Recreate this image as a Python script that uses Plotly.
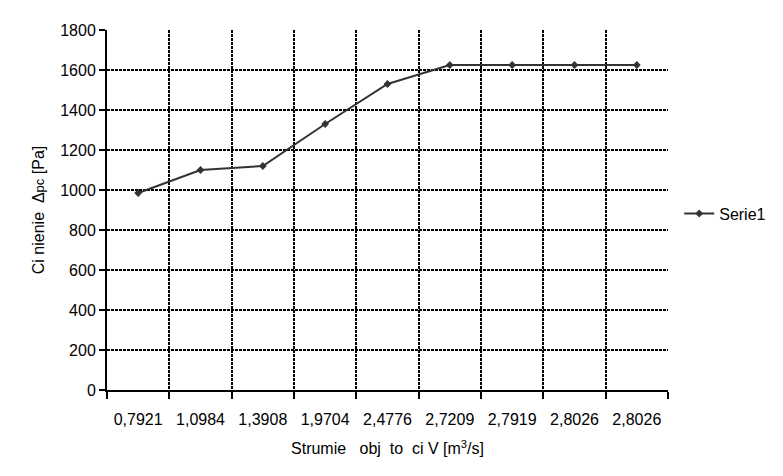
import plotly.graph_objects as go

x_labels = ["0,7921", "1,0984", "1,3908", "1,9704", "2,4776", "2,7209", "2,7919", "2,8026", "2,8026"]
y_values = [985, 1100, 1120, 1330, 1530, 1625, 1625, 1625, 1625]
series_name = "Serie1"
y_ticks = [0, 200, 400, 600, 800, 1000, 1200, 1400, 1600, 1800]

x_pos = list(range(len(x_labels)))

fig = go.Figure()
fig.add_trace(go.Scatter(
    x=x_pos, y=y_values, name=series_name, mode="lines+markers",
    line=dict(color="#333333", width=2),
    marker=dict(symbol="diamond", size=6, color="#333333"),
))

font = dict(family="Liberation Sans, Arial, sans-serif", size=16, color="black")

fig.update_layout(
    width=783, height=476,
    margin=dict(l=107, r=108, t=30, b=86),
    paper_bgcolor="white", plot_bgcolor="white",
    font=font,
    showlegend=True,
    legend=dict(x=1.02, xanchor="left", y=0.49, yanchor="middle",
                font=dict(size=16), bgcolor="rgba(0,0,0,0)", itemwidth=30),
    xaxis=dict(
        range=[-0.5, len(x_labels) - 0.5],
        tickmode="array", tickvals=x_pos, ticktext=x_labels,
        tickfont=dict(size=16), ticklabelstandoff=14,
        ticks="", showgrid=False, zeroline=False,
        showline=True, linecolor="black", linewidth=2,
        minor=dict(tickmode="linear", tick0=0.5, dtick=1, ticks="outside",
                   ticklen=7, tickwidth=2, tickcolor="black",
                   showgrid=True, gridcolor="black", gridwidth=2, griddash="3px,1px"),
        title=dict(text="Strumie   obj  to  ci V [m<sup>3</sup>/s]", font=dict(size=16), standoff=16),
        automargin=False, fixedrange=True,
    ),
    yaxis=dict(
        range=[0, 1800], tickmode="array", tickvals=y_ticks,
        tickfont=dict(size=16),
        ticks="outside", ticklen=6, tickwidth=2, tickcolor="black",
        showgrid=True, gridcolor="black", gridwidth=1.5, griddash="3px,1px",
        zeroline=False, showline=True, linecolor="black", linewidth=2,
        title=dict(text="Ci nienie  Δ<span style='font-size:13px'>pc</span> [Pa]",
                   font=dict(size=16), standoff=12),
        automargin=False, fixedrange=True,
    ),
)

fig.write_html("out.html")
